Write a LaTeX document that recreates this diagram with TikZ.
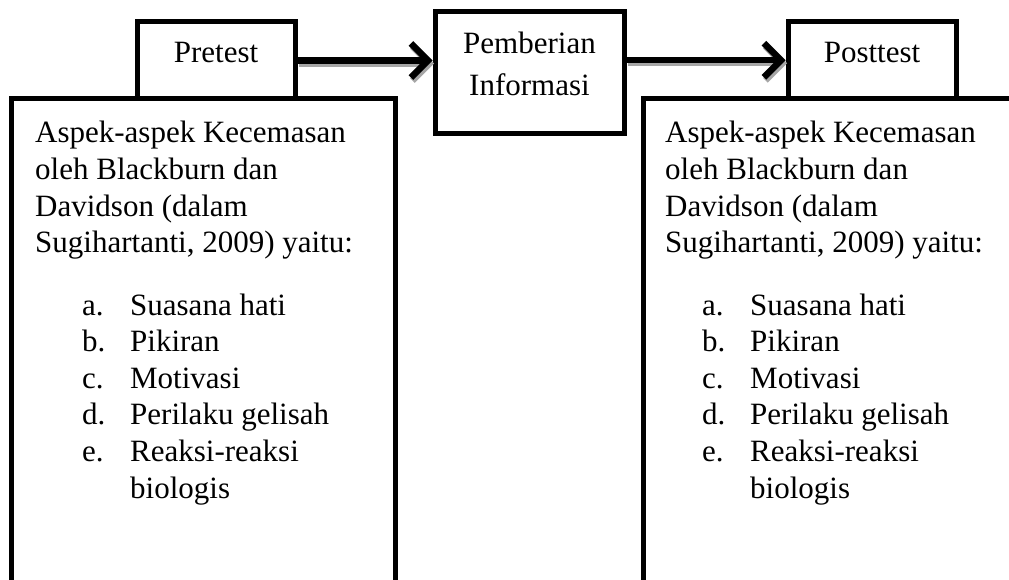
\documentclass[tikz,border=0pt]{standalone}
\usepackage{fontspec}
\setmainfont{Liberation Serif}
\usetikzlibrary{arrows.meta}
\begin{document}
\begin{tikzpicture}[x=1pt,y=-1pt,
  box/.style={draw=black, line width=5pt, inner sep=0pt},
  txt/.style={inner sep=0pt, anchor=base, font=\fontsize{31}{36.6}\selectfont},
  arr/.style={line width=6.5pt, -{Straight Barb[length=17pt,width=34pt]},
    preaction={draw=black!35, line width=6.5pt, -{Straight Barb[length=17pt,width=34pt]},
      transform canvas={shift={(1.5pt,-3pt)}}}}]
\fill[white] (0,0) rectangle (1009,580);
\useasboundingbox (0,0) rectangle (1009,580);
\clip (0,0) rectangle (1009,580);
% boxes
\node[box, minimum width=158pt, minimum height=77pt] (pre) at (216,60.5) {};
\node[box, minimum width=189pt, minimum height=122pt] (pem) at (529.5,73) {};
\node[box, minimum width=168pt, minimum height=77.5pt] (post) at (872,60.25) {};
\node[box, minimum width=384pt, minimum height=551pt] (lbox) at (203,374.5) {};
\node[box, minimum width=427pt, minimum height=551pt] (rbox) at (856.5,374.5) {};
% texts
\node[txt] (pretx) at (216,63) {Pretest};
\node[txt] (posttx) at (872,63) {Posttest};
\node[txt, font=\fontsize{31}{42}\selectfont] (pemtx) at (529.5,54)
  {\begin{tabular}[t]{@{}c@{}}Pemberian\\Informasi\end{tabular}};
\node[txt, anchor=base west] (lhead) at (35,143)
  {\begin{tabular}[t]{@{}l@{}}Aspek-aspek Kecemasan\\oleh Blackburn dan\\Davidson (dalam\\Sugihartanti, 2009) yaitu:\end{tabular}};
\node[txt, anchor=base west] (llist) at (82,315)
  {\begin{tabular}[t]{@{}p{48pt}@{}l@{}}a. & Suasana hati\\b. & Pikiran\\c. & Motivasi\\d. & Perilaku gelisah\\e. & Reaksi-reaksi\\ & biologis\end{tabular}};
\node[txt, anchor=base west] (rhead) at (665,143)
  {\begin{tabular}[t]{@{}l@{}}Aspek-aspek Kecemasan\\oleh Blackburn dan\\Davidson (dalam\\Sugihartanti, 2009) yaitu:\end{tabular}};
\node[txt, anchor=base west] (rlist) at (702,315)
  {\begin{tabular}[t]{@{}p{48pt}@{}l@{}}a. & Suasana hati\\b. & Pikiran\\c. & Motivasi\\d. & Perilaku gelisah\\e. & Reaksi-reaksi\\ & biologis\end{tabular}};
% arrows
\draw[arr] (pre) -- (pem.west |- pre);
\draw[arr] (pem.east |- post) -- (post);
\end{tikzpicture}
\end{document}
